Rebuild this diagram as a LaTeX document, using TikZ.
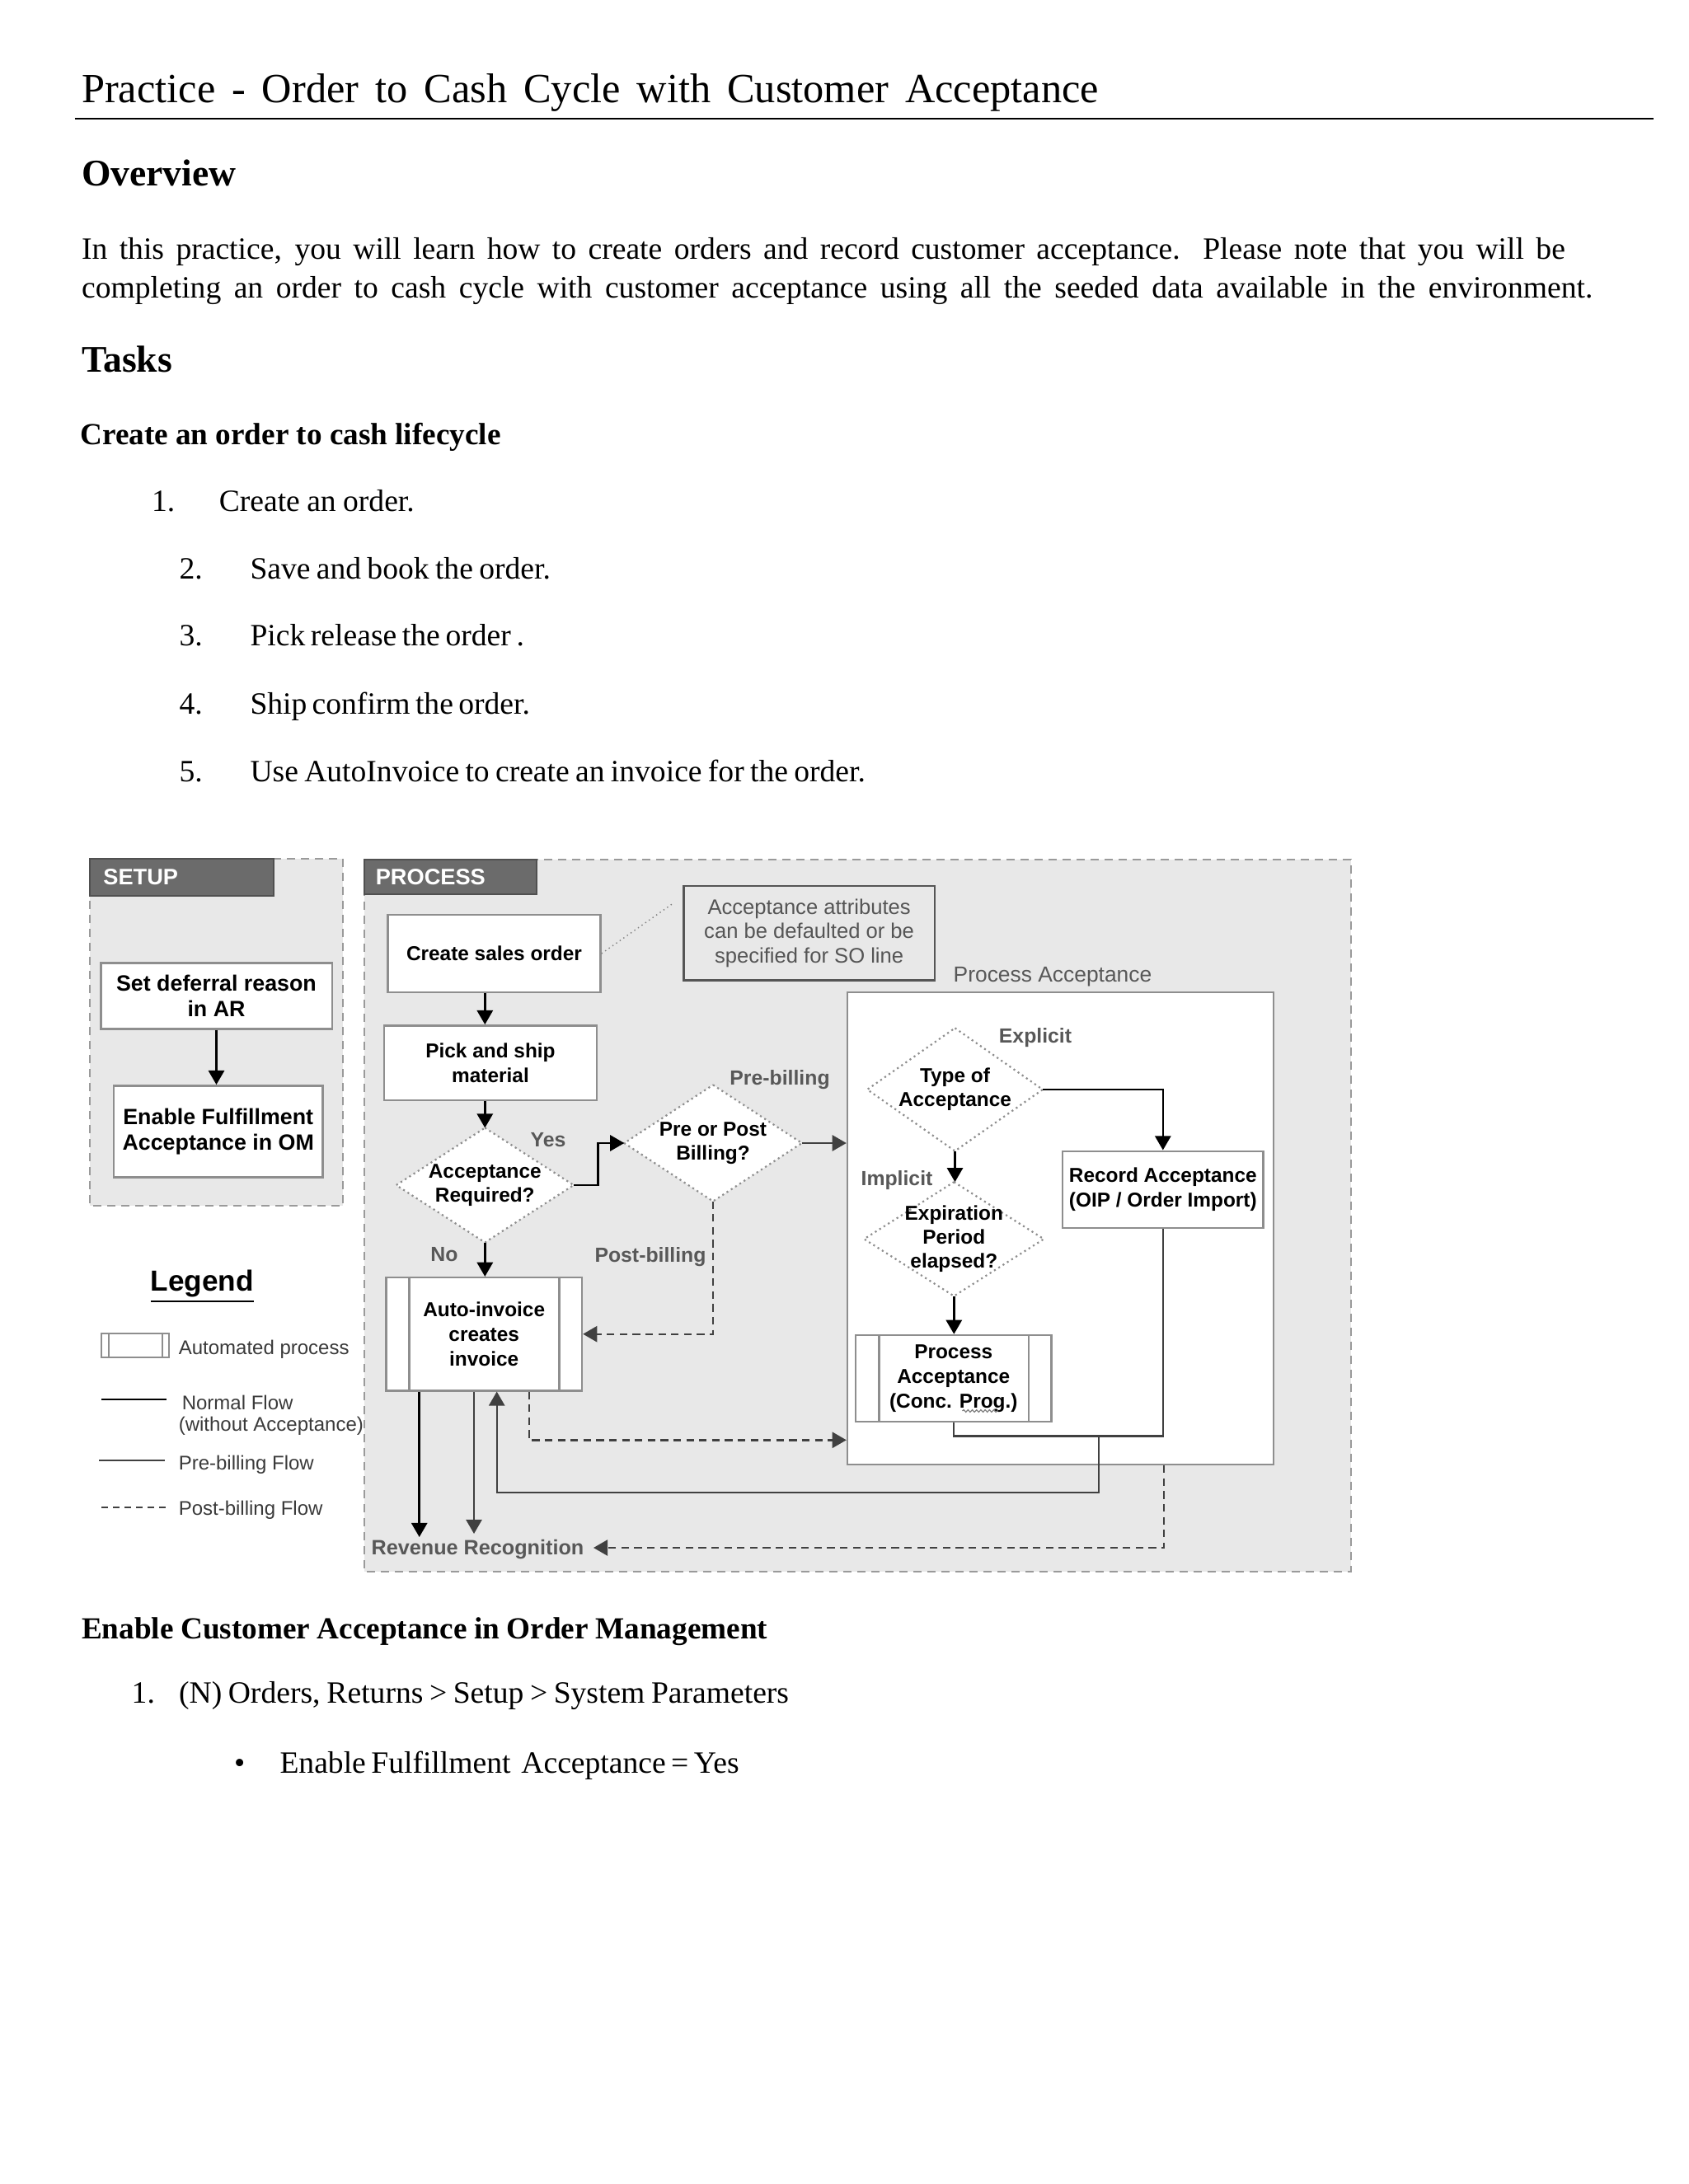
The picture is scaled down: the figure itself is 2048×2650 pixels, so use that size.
\documentclass[tikz,border=0pt]{standalone}
\usepackage{fontspec}
\setmainfont{Liberation Serif}
\setsansfont{Liberation Sans}
\usetikzlibrary{arrows.meta,decorations.pathmorphing}
\definecolor{bggray}{HTML}{E8E8E8}
\definecolor{dashgray}{HTML}{9A9A9A}
\definecolor{hdrgray}{HTML}{6B6B6B}
\definecolor{hdrborder}{HTML}{505050}
\definecolor{boxgray}{HTML}{8E8E8E}
\definecolor{lblgray}{HTML}{585858}
\definecolor{flowgray}{HTML}{404040}
\definecolor{notegray}{HTML}{555555}
\definecolor{legtextc}{HTML}{3A3A3A}
\pgfdeclarelayer{back}
\pgfdeclarelayer{mid}
\pgfsetlayers{back,mid,main}
\newcommand{\fsz}[2]{\fontsize{#1}{#2}\selectfont}
\tikzset{
  region/.style={fill=bggray, draw=dashgray, line width=0.5pt, dash pattern=on 2.5pt off 1.75pt},
  header/.style={fill=hdrgray, draw=hdrborder, line width=0.5pt},
  hdrtext/.style={text=white, anchor=west, inner sep=0pt, font=\sffamily\bfseries\fsz{6.8}{8}},
  pbox/.style={draw=boxgray, fill=white, line width=0.6pt, inner sep=0pt, align=center, font=\sffamily\bfseries\fsz{6.1}{7.5}},
  sbox/.style={pbox, font=\sffamily\bfseries\fsz{6.7}{7.8}},
  pabox/.style={draw=boxgray, fill=white, line width=0.6pt, inner sep=0pt, minimum width=129.25pt, minimum height=143.25pt},
  notebox/.style={draw=notegray, fill=bggray, line width=0.55pt, inner sep=0pt, align=center, text=notegray, font=\sffamily\fsz{6.4}{7.3}},
  dnode/.style={inner sep=0pt, align=center, font=\sffamily\bfseries\fsz{6.1}{7.3}},
  diaborder/.style={fill=white, draw=boxgray, line width=0.55pt, densely dotted},
  boxline/.style={draw=boxgray, line width=0.6pt},
  lbl/.style={text=lblgray, inner sep=0pt, font=\sffamily\bfseries\fsz{6.2}{7.2}},
  arr/.style={draw=black, line width=0.65pt, -{Triangle[width=4.8pt,length=4.3pt]}},
  prearr/.style={draw=flowgray, line width=0.6pt, -{Triangle[width=4.8pt,length=4.3pt]}},
  preln/.style={draw=flowgray, line width=0.6pt},
  postarr/.style={draw=flowgray, line width=0.6pt, dash pattern=on 2.3pt off 1.6pt, -{Triangle[width=4.8pt,length=4.3pt]}},
  leader/.style={draw=gray, line width=0.35pt, densely dotted},
  body/.style={anchor=base west, inner sep=0pt, font=\fsz{9.4}{11}},
  hd/.style={anchor=base west, inner sep=0pt, font=\bfseries\fsz{11.4}{13}},
  subhd/.style={anchor=base west, inner sep=0pt, font=\bfseries\fsz{9.3}{11}},
  legtxt/.style={anchor=west, inner sep=0pt, align=left, text=legtextc, font=\sffamily\fsz{6}{6.6}},
}
\begin{document}
\begin{tikzpicture}[x=0.25pt,y=-0.25pt]
\useasboundingbox (0,0) rectangle (2048,2650);

% ---------- background layer ----------
\begin{pgfonlayer}{back}
\fill[white] (0,0) rectangle (2048,2650);
\draw[region] (109,1042) rectangle (416,1463);
\draw[region] (441.5,1043) rectangle (1638.5,1906.5);
\draw[header] (109,1042) rectangle (332,1087);
\draw[header] (441.5,1043) rectangle (651,1085);
\node[pabox] (pa) at (1286.5,1490.5) {};
\end{pgfonlayer}

% ---------- document text ----------
\node[anchor=base west, inner sep=0pt, font=\fsz{12.6}{15}] (title) at (98.3,125)
  {\makebox[308.5pt][s]{Practice - Order to Cash Cycle with Customer Acceptance}};
\draw[line width=0.7pt] (90.7,144) -- (2006,144);
\node[hd] (overview) at (98.3,225.7) {Overview};
\node[body] (para1) at (98.3,315) {\makebox[449.9pt][s]{In this practice, you will learn how to create orders and record customer acceptance. Please note that you will be}};
\node[body] (para2) at (98.3,361.7) {\makebox[458.25pt][s]{completing an order to cash cycle with customer acceptance using all the seeded data available in the environment.}};
\node[hd] (tasks) at (98.3,451.7) {Tasks};
\node[subhd] (sub1) at (96.7,540) {\makebox[127.5pt][s]{Create an order to cash lifecycle}};

\node[body] (n1) at (183.3,620.7) {1.};
\node[body] (t1) at (265,620.7) {\makebox[59.25pt][s]{Create an order.}};
\node[body] (n2) at (216.7,702.3) {2.};
\node[body] (t2) at (302.7,702.3) {\makebox[91.1pt][s]{Save and book the order.}};
\node[body] (n3) at (216.7,783.3) {3.};
\node[body] (t3) at (302.7,783.3) {\makebox[83.1pt][s]{Pick release the order .}};
\node[body] (n4) at (216.7,866.7) {4.};
\node[body] (t4) at (302.7,866.7) {\makebox[84.8pt][s]{Ship confirm the order.}};
\node[body] (n5) at (216.7,948.3) {5.};
\node[body] (t5) at (302.7,948.3) {\makebox[186.6pt][s]{Use AutoInvoice to create an invoice for the order.}};

\node[subhd] (sub2) at (98.3,1988.3) {\makebox[208pt][s]{Enable Customer Acceptance in Order Management}};
\node[body] (m1) at (158.9,2066.7) {1.};
\node[body] (mt1) at (216.3,2066.7) {\makebox[185pt][s]{(N) Orders, Returns > Setup > System Parameters}};
\node[body] (bul) at (283.2,2151) {•};
\node[body] (bt1) at (338.7,2151) {\makebox[139.25pt][s]{Enable Fulfillment \ Acceptance = Yes}};

% ---------- headers ----------
\node[hdrtext] (setuph) at (124.6,1064) {SETUP};
\node[hdrtext] (proch) at (455,1064) {PROCESS};

% ---------- setup boxes ----------
\node[sbox, minimum width=70.1pt, minimum height=20pt] (def) at (262.5,1208.3) {Set deferral reason\\in AR};
\node[sbox, minimum width=63.4pt, minimum height=27.75pt] (ena) at (264.75,1372.8) {Enable Fulfillment\\Acceptance in OM};
\draw[arr] (def.south) -- (def.south |- ena.north);

% ---------- process nodes ----------
\node[pbox, minimum width=64.5pt, minimum height=23.6pt] (cso) at (599.5,1157) {Create sales order};
\node[pbox, minimum width=64.5pt, minimum height=22.7pt] (pick) at (595,1289.7) {Pick and ship\\material};
\node[dnode, minimum width=53.4pt, minimum height=34.35pt] (ar) at (588.3,1438) {Acceptance\\Required?};
\node[dnode, minimum width=53.45pt, minimum height=34.9pt] (pp) at (865,1387) {Pre or Post\\Billing?};
\node[pbox, minimum width=59.4pt, minimum height=34.3pt] (auto) at (587.2,1618.7) {Auto-invoice\\creates\\invoice};
\draw[boxline] ([xshift=7.35pt]auto.north west) -- ([xshift=7.35pt]auto.south west);
\draw[boxline] ([xshift=-7.2pt]auto.north east) -- ([xshift=-7.2pt]auto.south east);
\node[notebox, minimum width=76.1pt, minimum height=28.6pt] (note) at (981.6,1132.2) {Acceptance attributes\\can be defaulted or be\\specified for SO line};
\coordinate (noteend) at (815.7,1096.7);
\draw[leader] (cso.east) -- (noteend);

\node[lbl, font=\sffamily\fsz{6.6}{7.5}] (lpa) at (1277,1185) {Process Acceptance};
\node[dnode, minimum width=52.8pt, minimum height=36.9pt] (ta) at (1158.5,1322) {Type of\\Acceptance};
\node[pbox, minimum width=60.9pt, minimum height=23.3pt] (rec) at (1410.8,1443.3) {Record Acceptance\\(OIP / Order Import)};
\node[dnode, minimum width=54.1pt, minimum height=34.2pt] (exp) at (1157.3,1503.4) {Expiration\\Period\\elapsed?};
\node[pbox, minimum width=59.4pt, minimum height=26.25pt] (cp) at (1156.75,1672.5) {Process\\Acceptance\\(Conc. Prog.)};
\draw[boxline] ([xshift=7.4pt]cp.north west) -- ([xshift=7.4pt]cp.south west);
\draw[boxline] ([xshift=-7.2pt]cp.north east) -- ([xshift=-7.2pt]cp.south east);
\draw[gray, line width=0.3pt, decorate, decoration={snake, amplitude=0.35pt, segment length=1.3pt}] (1167.5,1712) -- (1211,1712);

\node[lbl, font=\sffamily\bfseries\fsz{6.3}{7.2}] (rev) at (579.5,1880) {Revenue Recognition};

% diamonds (drawn below text)
\begin{pgfonlayer}{mid}
\foreach \d in {ar,pp,ta,exp}
  \filldraw[diaborder] (\d.north) -- (\d.east) -- (\d.south) -- (\d.west) -- cycle;
\end{pgfonlayer}

% labels
\node[lbl] (lyes) at (665,1383) {Yes};
\node[lbl] (lno) at (539,1522) {No};
\node[lbl] (lpre) at (946,1310) {Pre-billing};
\node[lbl] (lpost) at (789,1525) {Post-billing};
\node[lbl] (lexpl) at (1256,1259) {Explicit};
\node[lbl] (limpl) at (1088,1432) {Implicit};

% ---------- connectors ----------
\draw[arr] (cso.south -| ar.north) -- (ar.north |- pick.north);
\draw[arr] (pick.south -| ar.north) -- (ar.north);
\draw[arr] (ar.south) -- (ar.south |- auto.north);
\draw[arr] (ar.east) -- ++(29.7,0) |- (pp.west);
\draw[prearr] (pp.east) -- (pp.east -| pa.west);
\draw[postarr] (pp.south) |- (auto.east);

\draw[arr] (ta.east) -| (rec.north);
\draw[arr] (ta.south) -- (ta.south |- exp.north);
\draw[arr] (exp.south) -- (exp.south |- cp.north);

\coordinate (jA) at (1332.7,1742.3);
\coordinate (jB) at (602.7,1811);
\draw[preln] (cp.south) |- (jA) -- (jA -| rec.south) -- (rec.south);
\draw[prearr] (jA) |- (jB) -- (jB |- auto.south);

\coordinate (r1) at (508.7,1865);
\coordinate (r2) at (575,1861);
\draw[arr] (auto.south -| r1) -- (r1);
\draw[prearr] (auto.south -| r2) -- (r2);

\coordinate (dB) at (641.7,1747.3);
\draw[postarr] (auto.south -| dB) -- (dB) -- (dB -| pa.west);
\coordinate (dC) at (1412,1878);
\coordinate (revin) at (720,1878);
\draw[postarr] (pa.south -| dC) -- (dC) -- (revin);

% ---------- legend ----------
\node[inner sep=0pt, font=\sffamily\bfseries\fsz{8.8}{10}] (legend) at (245.4,1561) {\underline{Legend}};
\node[draw=boxgray, fill=white, line width=0.55pt, inner sep=0pt, minimum width=20.4pt, minimum height=7.25pt] (legauto) at (163.8,1632.5) {};
\draw[boxline, line width=0.5pt] ([xshift=2.5pt]legauto.north west) -- ([xshift=2.5pt]legauto.south west);
\draw[boxline, line width=0.5pt] ([xshift=-2.15pt]legauto.north east) -- ([xshift=-2.15pt]legauto.south east);
\node[legtxt] (legautot) at (216,1637) {Automated process};
\draw[black, line width=0.7pt] (123,1698) -- (202,1698);
\node[legtxt] (legnorm) at (216,1717) {\,Normal Flow\\(without Acceptance)};
\draw[flowgray, line width=0.6pt] (120,1771.7) -- (199.5,1771.7);
\node[legtxt] (legpre) at (216,1777) {Pre-billing Flow};
\draw[flowgray, line width=0.6pt, dash pattern=on 2pt off 1.5pt] (123,1829) -- (204.6,1829);
\node[legtxt] (legpost) at (216,1832) {Post-billing Flow};
\end{tikzpicture}
\end{document}
